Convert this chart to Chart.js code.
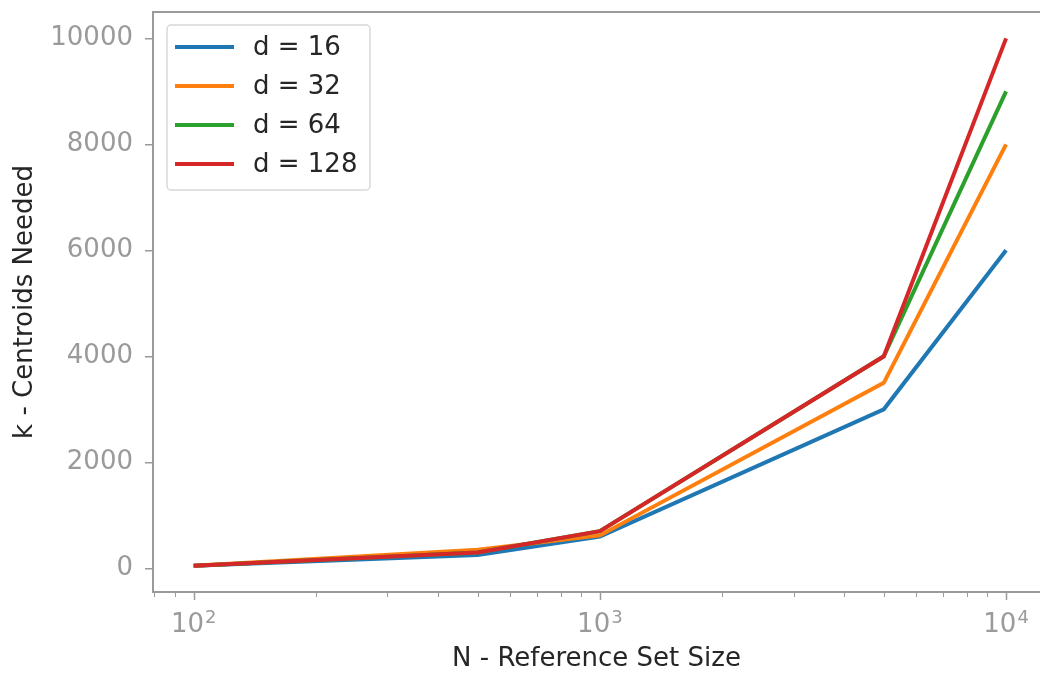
<!DOCTYPE html>
<html>
<head>
<meta charset="utf-8">
<script src="https://cdn.jsdelivr.net/npm/chart.js@4/dist/chart.umd.min.js"></script>
<style>
  html, body { margin: 0; padding: 0; background: #fff; overflow: hidden; }
</style>
</head>
<body>
<canvas id="myChart" width="1040" height="674"></canvas>
<script>
// data
const sizes = [100, 500, 1000, 5000, 10000];
const d16 = [50, 250, 600, 3000, 6000];
const d32 = [50, 350, 620, 3500, 8000];
const d64 = [50, 300, 700, 4000, 9000];
const d128 = [50, 300, 700, 4000, 10000];
const seriesLabels = ['d = 16', 'd = 32', 'd = 64', 'd = 128'];
const seriesColors = ['#1f77b4', '#ff7f0e', '#2ca02c', '#d62728'];
const yTicks = [0, 2000, 4000, 6000, 8000, 10000];
const xMajorTicks = [100, 1000, 10000];
const xTickBase = '10';
const xTickExponents = ['2', '3', '4'];
const xMinorTicks = [80, 90, 200, 300, 400, 500, 600, 700, 800, 900,
  2000, 3000, 4000, 5000, 6000, 7000, 8000, 9000];

const FONT = '"DejaVu Sans", sans-serif';
const AXIS_GRAY = '#9a9a9a';
const ctx = document.getElementById('myChart');

// x tick marks (long for decades, short for minor) and 10^n labels
const logTicks = {
  id: 'logTicks',
  afterDraw(chart) {
    const c = chart.ctx;
    const xs = chart.scales.x;
    const y0 = chart.chartArea.bottom;
    c.save();
    c.strokeStyle = AXIS_GRAY;
    xMinorTicks.concat(xMajorTicks).forEach(v => {
      const major = xMajorTicks.includes(v);
      const px = Math.round(xs.getPixelForValue(v)) + 0.5;
      c.lineWidth = major ? 1.5 : 1;
      c.beginPath();
      c.moveTo(px, y0);
      c.lineTo(px, y0 + (major ? 8 : 5));
      c.stroke();
    });
    c.fillStyle = AXIS_GRAY;
    c.textBaseline = 'alphabetic';
    c.textAlign = 'left';
    xMajorTicks.forEach((v, i) => {
      const px = xs.getPixelForValue(v);
      c.font = '26px ' + FONT;
      const w1 = c.measureText(xTickBase).width;
      c.font = '18px ' + FONT;
      const w2 = c.measureText(xTickExponents[i]).width;
      const left = px - (w1 + 1 + w2) / 2;
      c.font = '26px ' + FONT;
      c.fillText(xTickBase, left, y0 + 40);
      c.font = '18px ' + FONT;
      c.fillText(xTickExponents[i], left + w1 + 1, y0 + 31);
    });
    // top spine
    c.strokeStyle = AXIS_GRAY;
    c.lineWidth = 2;
    c.beginPath();
    c.moveTo(chart.chartArea.left, chart.chartArea.top);
    c.lineTo(chart.chartArea.right, chart.chartArea.top);
    c.stroke();
    c.restore();
  }
};

// boxed legend in the upper-left corner of the plot
const boxLegend = {
  id: 'boxLegend',
  afterDraw(chart) {
    const c = chart.ctx;
    const x0 = chart.chartArea.left + 14;
    const y0 = chart.chartArea.top + 13;
    c.save();
    c.beginPath();
    c.roundRect(x0, y0, 203, 165, 4);
    c.fillStyle = 'rgba(255,255,255,0.8)';
    c.fill();
    c.strokeStyle = '#d8d8d8';
    c.lineWidth = 1.5;
    c.stroke();
    c.font = '26px ' + FONT;
    c.textBaseline = 'middle';
    c.textAlign = 'left';
    chart.data.datasets.forEach((ds, i) => {
      const y = y0 + 22 + i * 39;
      c.strokeStyle = ds.borderColor;
      c.lineWidth = 4;
      c.beginPath();
      c.moveTo(x0 + 8, y);
      c.lineTo(x0 + 67, y);
      c.stroke();
      c.fillStyle = '#262626';
      c.fillText(ds.label, x0 + 86, y + 1);
    });
    c.restore();
  }
};

const series = [d16, d32, d64, d128];

new Chart(ctx, {
  type: 'line',
  data: {
    datasets: series.map((vals, i) => ({
      label: seriesLabels[i],
      data: vals.map((v, j) => ({ x: sizes[j], y: v })),
      borderColor: seriesColors[i],
      backgroundColor: seriesColors[i],
      borderWidth: 4,
      pointRadius: 0,
      tension: 0,
      fill: false,
      order: series.length - i
    }))
  },
  options: {
    responsive: false,
    animation: false,
    devicePixelRatio: 1,
    layout: { padding: { top: 12, right: 0, bottom: 0, left: 0 } },
    plugins: {
      legend: { display: false },
      tooltip: { enabled: false }
    },
    scales: {
      x: {
        type: 'logarithmic',
        min: 79.4,
        max: 12120,
        afterBuildTicks: (scale) => {
          scale.ticks = xMajorTicks.map(v => ({ value: v, major: true }));
        },
        afterFit: (scale) => {
          scale.height = 82;
          scale.paddingLeft = 0;
          scale.paddingRight = 0;
        },
        grid: { drawOnChartArea: false, drawTicks: false, color: 'rgba(0,0,0,0)' },
        border: { display: true, color: AXIS_GRAY, width: 2 },
        ticks: { display: false },
        title: {
          display: true,
          text: 'N - Reference Set Size',
          color: '#262626',
          font: { family: FONT, size: 26, lineHeight: 1 },
          padding: { top: 0, bottom: 2 }
        }
      },
      y: {
        type: 'linear',
        min: -447.5,
        max: 10497.5,
        afterBuildTicks: (scale) => {
          scale.ticks = yTicks.map(v => ({ value: v }));
        },
        afterFit: (scale) => {
          scale.width = 153;
          scale.paddingTop = 0;
          scale.paddingBottom = 0;
        },
        grid: { drawOnChartArea: false, drawTicks: true, tickLength: 8, color: AXIS_GRAY, lineWidth: 1.5 },
        border: { display: true, color: AXIS_GRAY, width: 2 },
        ticks: {
          padding: 12,
          color: AXIS_GRAY,
          font: { family: FONT, size: 26 },
          callback: (value) => String(value)
        },
        title: {
          display: true,
          text: 'k - Centroids Needed',
          color: '#262626',
          font: { family: FONT, size: 26, lineHeight: 1 },
          padding: { top: 12, bottom: 0 }
        }
      }
    }
  },
  plugins: [logTicks, boxLegend]
});
</script>
</body>
</html>
